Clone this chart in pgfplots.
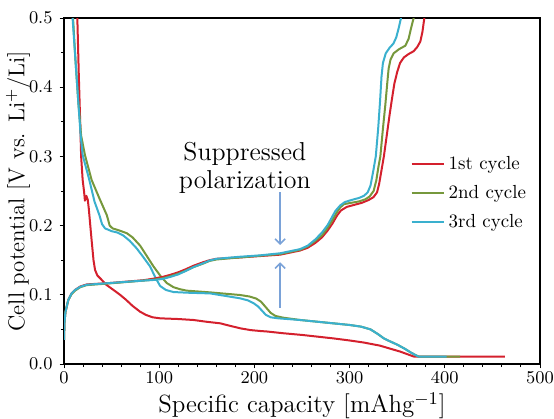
\documentclass[border=0pt]{standalone}
\usepackage{pgfplots}
\pgfplotsset{compat=1.18}
\usetikzlibrary{arrows.meta}
\definecolor{c1}{RGB}{212,32,45}
\definecolor{c2}{RGB}{118,152,60}
\definecolor{c3}{RGB}{58,176,206}
\definecolor{carr}{RGB}{122,162,216}
\begin{document}
\begin{tikzpicture}
\begin{axis}[
  scale only axis,
  width=238bp, height=173bp,
  xmin=0, xmax=500, ymin=0, ymax=0.5,
  xtick={0,100,200,300,400,500},
  ytick={0,0.1,0.2,0.3,0.4,0.5},
  minor x tick num=4,
  minor y tick num=1,
  tick pos=left,
  tick align=outside,
  major tick length=2.2bp,
  minor tick length=1.6bp,
  axis line style={line width=0.9bp},
  every tick/.style={black, line width=0.5bp},
  tick label style={font=\fontsize{9.5}{11}\selectfont},
  xticklabel style={inner sep=1.5bp},
  yticklabel style={/pgf/number format/fixed,/pgf/number format/precision=1,/pgf/number format/fixed zerofill},
  xlabel={Specific capacity [mAhg$^{-1}$]},
  ylabel={Cell potential [V vs. Li$^{+}$/Li]},
  xlabel style={font=\fontsize{12.5}{14}\selectfont, at={(axis description cs:0.5,-0.121)}, anchor=center, inner sep=0.5bp},
  ylabel style={font=\fontsize{11.5}{13}\selectfont, at={(axis description cs:-0.0966,0.5)}, anchor=center},
  legend style={draw=none, fill=none, at={(0.715,0.625)}, anchor=north west,
    font=\fontsize{9.5}{11}\selectfont, row sep=2.5bp},
  legend cell align=left,
  legend image code/.code={\draw[#1] (0bp,0bp) -- (16bp,0bp);},
  every axis plot/.append style={line width=1bp, line join=round},
]
% 1st cycle (discharge)
\addplot[c1] coordinates {(14,0.5) (15.5,0.42) (17,0.35) (18,0.30) (19.6,0.266) (21,0.25) (22,0.236) (23.5,0.243) (25,0.237) (26,0.225) (29,0.179) (31,0.15) (32.6,0.136) (35,0.128) (37.9,0.124) (44.9,0.114) (52,0.107) (58.9,0.100) (65,0.093) (72,0.084) (79.9,0.0756) (86,0.071) (93,0.0675) (101,0.066) (120,0.065) (136,0.0636) (150,0.061) (164,0.0588) (175,0.055) (185,0.0516) (196,0.049) (206,0.0477) (213,0.047) (230,0.0445) (250,0.042) (283,0.037) (300,0.034) (315,0.031) (332,0.0265) (343,0.022) (353,0.018) (368,0.0105) (463,0.0105)};
\addlegendentry{1st cycle}
% 2nd cycle (discharge)
\addplot[c2] coordinates {(9.5,0.5) (12,0.44) (15,0.379) (18,0.33) (22,0.302) (29,0.266) (37,0.24) (45,0.215) (48,0.2) (51,0.196) (58,0.193) (66,0.189) (72,0.183) (80,0.171) (87,0.156) (94,0.141) (102,0.126) (108,0.117) (115,0.111) (122,0.108) (129,0.106) (153.5,0.1035) (185,0.0997) (195,0.0975) (202,0.0945) (207,0.09) (212,0.082) (217,0.074) (222,0.0695) (230,0.067) (248,0.0636) (300,0.0564) (312,0.054) (322,0.050) (330,0.043) (336,0.037) (342,0.033) (350,0.028) (358,0.022) (365,0.016) (372.6,0.0105) (416,0.0105)};
\addlegendentry{2nd cycle}
% 3rd cycle (discharge)
\addplot[c3] coordinates {(9,0.5) (12,0.44) (15,0.379) (17.5,0.33) (19.6,0.302) (26.6,0.266) (32,0.235) (37.2,0.215) (40,0.202) (43.1,0.196) (50,0.192) (56,0.190) (62,0.186) (69,0.178) (76.4,0.167) (83,0.155) (90.4,0.141) (96,0.125) (101,0.1127) (107,0.107) (115,0.104) (130,0.103) (153.5,0.102) (185,0.0949) (193,0.092) (199,0.088) (204,0.083) (208,0.077) (212,0.071) (217,0.0675) (225,0.066) (248,0.0636) (300,0.0564) (312,0.054) (322,0.050) (330,0.043) (336,0.037) (342,0.033) (350,0.028) (358,0.022) (365,0.016) (372.6,0.0105) (402,0.0105)};
\addlegendentry{3rd cycle}
% charge curves
\addplot[c1, forget plot] coordinates {(0,0.035) (0.5,0.06) (1.5,0.075) (4.5,0.0925) (8,0.102) (11.6,0.107) (17,0.112) (23.9,0.115) (48,0.117) (83,0.121) (95,0.1235) (104,0.126) (112,0.129) (120,0.1325) (128,0.137) (136,0.142) (146,0.147) (153,0.15) (160,0.152) (172,0.153) (185,0.154) (206,0.156) (227,0.158) (248,0.164) (256,0.168) (264,0.175) (271,0.183) (277,0.193) (282,0.203) (287,0.215) (291,0.222) (297,0.227) (305,0.23) (313,0.233) (320,0.237) (325,0.241) (328.8,0.248) (331,0.26) (333.5,0.28) (336,0.30) (339,0.33) (342,0.36) (344.6,0.384) (347,0.405) (350,0.422) (353,0.435) (357,0.443) (362,0.448) (367.3,0.452) (371,0.458) (374.3,0.466) (376.5,0.48) (378.5,0.5)};
\addplot[c2, forget plot] coordinates {(0,0.035) (0.5,0.06) (1.5,0.075) (4.5,0.0925) (8,0.101) (11.6,0.106) (17,0.111) (23.9,0.114) (48,0.1165) (83,0.1205) (95,0.122) (104,0.124) (112,0.127) (120,0.1305) (128,0.135) (136,0.14) (146,0.145) (153,0.149) (160,0.151) (172,0.1525) (185,0.154) (206,0.1565) (227,0.159) (248,0.165) (256,0.17) (264,0.178) (271,0.186) (277,0.197) (282,0.208) (286,0.218) (290,0.226) (294,0.231) (302,0.233) (310,0.235) (316.5,0.238) (321,0.242) (325.2,0.25) (328,0.265) (330.3,0.285) (332.3,0.30) (335,0.34) (337.5,0.374) (339.5,0.405) (341,0.427) (343,0.44) (346.3,0.449) (352,0.455) (358.6,0.46) (362,0.47) (364.5,0.485) (367.3,0.5)};
\addplot[c3, forget plot] coordinates {(0,0.035) (0.5,0.06) (1.5,0.075) (4.5,0.0925) (8,0.102) (11.6,0.107) (17,0.1115) (23.9,0.1145) (48,0.117) (83,0.1205) (95,0.1215) (104,0.123) (112,0.126) (120,0.1295) (128,0.1345) (136,0.14) (146,0.1455) (153,0.1495) (160,0.152) (172,0.1535) (185,0.155) (206,0.157) (227,0.16) (248,0.166) (256,0.171) (264,0.18) (271,0.19) (277,0.201) (281,0.211) (285,0.221) (290,0.229) (295,0.234) (302,0.237) (310,0.24) (315,0.243) (319,0.248) (322,0.258) (325,0.28) (327.5,0.30) (330,0.34) (332,0.38) (333.5,0.415) (335,0.435) (338,0.449) (342,0.457) (346,0.463) (349,0.472) (351.5,0.485) (354,0.5)};
% annotation
\draw[carr, line width=0.8bp, -{Straight Barb[length=2.5bp,width=5bp]}] (axis cs:227,0.248) -- (axis cs:227,0.172);
\draw[carr, line width=0.8bp, -{Straight Barb[length=2.5bp,width=5bp]}] (axis cs:227,0.081) -- (axis cs:227,0.147);
\node[align=center, font=\fontsize{13}{14}\selectfont, inner sep=0pt] at (axis cs:190,0.283) {Suppressed\\polarization};
\end{axis}
\pgfresetboundingbox
\path[use as bounding box] ([shift={(-32bp,-27.5bp)}]current axis.south west) rectangle ([shift={(7bp,9bp)}]current axis.north east);
\end{tikzpicture}
\end{document}
